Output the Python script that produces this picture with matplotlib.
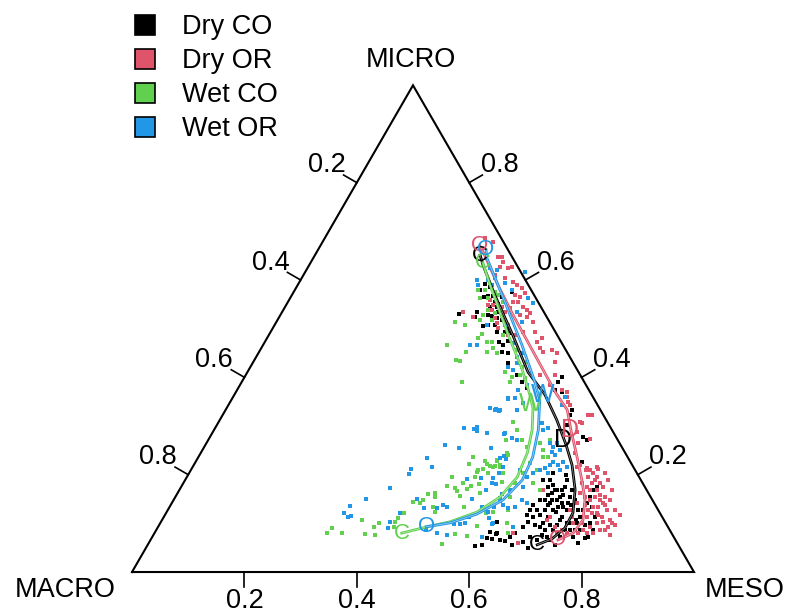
import numpy as np
import matplotlib
matplotlib.use("Agg")
import matplotlib.pyplot as plt
from matplotlib.lines import Line2D

plt.rcParams['font.family'] = ['Liberation Sans', 'DejaVu Sans']

# composition of each sample: MESO and MICRO fractions (MACRO = 1 - MESO - MICRO)
dry_co_meso = [0.317, 0.347, 0.348, 0.330, 0.332, 0.344, 0.350, 0.344, 0.359, 0.369, 0.377, 0.365, 0.376, 0.369,
               0.378, 0.389, 0.400, 0.407, 0.372, 0.392, 0.418, 0.427, 0.417, 0.432, 0.427, 0.432, 0.444, 0.454,
               0.483, 0.499, 0.514, 0.563, 0.565, 0.566, 0.580, 0.389, 0.376, 0.384, 0.397, 0.380, 0.403, 0.417,
               0.664, 0.674, 0.688, 0.617, 0.618, 0.623, 0.609, 0.637, 0.641, 0.650, 0.653, 0.657, 0.657, 0.680,
               0.681, 0.684, 0.685, 0.682, 0.685, 0.668, 0.681, 0.683, 0.680, 0.649, 0.666, 0.691, 0.700, 0.705,
               0.702, 0.699, 0.709, 0.724, 0.727, 0.718, 0.749, 0.745, 0.741, 0.741, 0.739, 0.739, 0.738, 0.736,
               0.740, 0.752, 0.767, 0.765, 0.777, 0.775, 0.771, 0.702, 0.711, 0.672, 0.665, 0.688, 0.706, 0.708,
               0.661, 0.673, 0.652, 0.645, 0.653, 0.647, 0.657, 0.637, 0.645, 0.644, 0.729, 0.764, 0.598, 0.596,
               0.609, 0.597, 0.607, 0.622, 0.595, 0.584, 0.680, 0.648, 0.632,
               0.661, 0.673, 0.693, 0.708, 0.671, 0.696, 0.672, 0.688, 0.710, 0.712, 0.714, 0.730, 0.737, 0.736,
               0.726, 0.692, 0.667, 0.660, 0.673, 0.758, 0.754, 0.669, 0.692, 0.725, 0.671, 0.694]
dry_co_micro = [0.530, 0.534, 0.524, 0.579, 0.592, 0.586, 0.567, 0.565, 0.567, 0.555, 0.545, 0.545, 0.551, 0.528,
                0.526, 0.522, 0.518, 0.514, 0.506, 0.508, 0.499, 0.491, 0.493, 0.475, 0.466, 0.452, 0.450, 0.429,
                0.405, 0.390, 0.378, 0.390, 0.401, 0.374, 0.370, 0.575, 0.565, 0.534, 0.534, 0.508, 0.493, 0.473,
                0.277, 0.271, 0.226, 0.333, 0.323, 0.302, 0.080, 0.072, 0.080, 0.093, 0.103, 0.113, 0.127, 0.093,
                0.101, 0.113, 0.127, 0.148, 0.154, 0.169, 0.169, 0.175, 0.189, 0.189, 0.162, 0.134, 0.134, 0.142,
                0.154, 0.169, 0.113, 0.101, 0.086, 0.080, 0.072, 0.086, 0.101, 0.113, 0.127, 0.142, 0.154, 0.169,
                0.175, 0.134, 0.113, 0.101, 0.086, 0.072, 0.070, 0.072, 0.066, 0.072, 0.062, 0.066, 0.086, 0.097,
                0.148, 0.142, 0.148, 0.138, 0.175, 0.203, 0.210, 0.189, 0.127, 0.117, 0.101, 0.060, 0.103, 0.082,
                0.078, 0.070, 0.068, 0.066, 0.056, 0.053, 0.049, 0.056, 0.064,
                0.158, 0.148, 0.123, 0.107, 0.127, 0.097, 0.169, 0.158, 0.127, 0.138, 0.148, 0.127, 0.107, 0.086,
                0.072, 0.086, 0.117, 0.179, 0.199, 0.097, 0.086, 0.097, 0.076, 0.056, 0.138, 0.142]

dry_or_meso = [0.650, 0.657, 0.643, 0.648, 0.601, 0.608, 0.594, 0.648, 0.661, 0.666, 0.684, 0.687, 0.703, 0.710,
               0.719, 0.730, 0.714, 0.727, 0.722, 0.743, 0.741, 0.751, 0.765, 0.759, 0.747, 0.741, 0.729, 0.767,
               0.782, 0.780, 0.767, 0.758, 0.753, 0.750, 0.759, 0.769, 0.777, 0.787, 0.797, 0.801, 0.790, 0.780,
               0.770, 0.754, 0.734, 0.726, 0.716, 0.721, 0.716, 0.709, 0.731, 0.754, 0.762, 0.804, 0.740, 0.720,
               0.734, 0.722, 0.706, 0.687, 0.647, 0.685, 0.657, 0.638, 0.716, 0.729, 0.754, 0.773, 0.777, 0.770,
               0.796, 0.753, 0.737, 0.748, 0.771, 0.811, 0.798, 0.810, 0.813, 0.678, 0.703, 0.723,
               0.285, 0.303, 0.328, 0.335, 0.342, 0.357, 0.363, 0.341, 0.341, 0.362, 0.380, 0.390, 0.402, 0.413,
               0.408, 0.397, 0.401, 0.409, 0.424, 0.434, 0.442, 0.441, 0.426, 0.401, 0.397, 0.394, 0.385, 0.371,
               0.322, 0.345, 0.386, 0.401, 0.426, 0.438, 0.449, 0.457, 0.471, 0.484, 0.489, 0.496, 0.505, 0.519,
               0.531, 0.537, 0.524, 0.552, 0.550, 0.578, 0.589, 0.359, 0.394, 0.407, 0.358, 0.368]
dry_or_micro = [0.323, 0.323, 0.308, 0.306, 0.349, 0.343, 0.360, 0.288, 0.265, 0.245, 0.216, 0.220, 0.214, 0.210,
                0.203, 0.195, 0.195, 0.183, 0.175, 0.169, 0.183, 0.175, 0.154, 0.148, 0.154, 0.148, 0.154, 0.142,
                0.127, 0.113, 0.121, 0.121, 0.113, 0.101, 0.086, 0.093, 0.101, 0.103, 0.107, 0.093, 0.086, 0.080,
                0.080, 0.080, 0.101, 0.113, 0.127, 0.142, 0.162, 0.183, 0.169, 0.134, 0.134, 0.101, 0.203, 0.216,
                0.080, 0.086, 0.093, 0.113, 0.169, 0.107, 0.060, 0.080, 0.080, 0.189, 0.158, 0.138, 0.148, 0.169,
                0.127, 0.189, 0.138, 0.127, 0.117, 0.097, 0.086, 0.117, 0.076, 0.273, 0.210, 0.212,
                0.686, 0.678, 0.647, 0.647, 0.637, 0.625, 0.627, 0.627, 0.610, 0.604, 0.596, 0.590, 0.584, 0.573,
                0.565, 0.569, 0.555, 0.555, 0.545, 0.538, 0.532, 0.524, 0.528, 0.542, 0.534, 0.528, 0.522, 0.538,
                0.534, 0.524, 0.545, 0.501, 0.487, 0.487, 0.493, 0.514, 0.493, 0.473, 0.481, 0.460, 0.452, 0.456,
                0.450, 0.432, 0.405, 0.384, 0.405, 0.374, 0.370, 0.549, 0.512, 0.514, 0.559, 0.549]

wet_co_meso = [0.326, 0.338, 0.338, 0.364, 0.361, 0.360, 0.382, 0.339, 0.378, 0.395, 0.404, 0.406, 0.412, 0.425,
               0.367, 0.392, 0.458, 0.477, 0.476, 0.488, 0.500, 0.487, 0.380, 0.352, 0.367, 0.358, 0.383, 0.415,
               0.457, 0.483, 0.417, 0.318, 0.327, 0.368, 0.375, 0.359,
               0.307, 0.311, 0.334, 0.356, 0.376, 0.384, 0.394, 0.389, 0.420, 0.418, 0.420, 0.423, 0.417, 0.428,
               0.442, 0.444, 0.447, 0.458, 0.462, 0.469, 0.478, 0.523, 0.472, 0.472, 0.488, 0.495, 0.506, 0.498,
               0.524, 0.511, 0.489, 0.515, 0.489, 0.513, 0.511, 0.511, 0.527, 0.538, 0.519, 0.514, 0.521, 0.532,
               0.528, 0.535, 0.537, 0.536, 0.545, 0.566, 0.558, 0.530, 0.549, 0.536, 0.559, 0.567, 0.569, 0.581,
               0.617, 0.629, 0.534, 0.547, 0.545, 0.524, 0.539, 0.558, 0.574, 0.593, 0.606, 0.622, 0.596, 0.594,
               0.590, 0.596, 0.616, 0.622, 0.642, 0.605, 0.632, 0.608, 0.613]
wet_co_micro = [0.579, 0.563, 0.579, 0.538, 0.528, 0.518, 0.518, 0.508, 0.489, 0.473, 0.473, 0.452, 0.460, 0.450,
                0.434, 0.390, 0.411, 0.390, 0.401, 0.405, 0.399, 0.432, 0.532, 0.563, 0.569, 0.575, 0.555, 0.508,
                0.456, 0.421, 0.487, 0.514, 0.466, 0.452, 0.481, 0.436,
                0.080, 0.090, 0.080, 0.107, 0.078, 0.093, 0.076, 0.101, 0.093, 0.111, 0.121, 0.121, 0.103, 0.144,
                0.142, 0.148, 0.160, 0.162, 0.154, 0.134, 0.123, 0.058, 0.177, 0.195, 0.173, 0.166, 0.156, 0.183,
                0.134, 0.171, 0.222, 0.177, 0.236, 0.195, 0.206, 0.210, 0.181, 0.162, 0.212, 0.228, 0.222, 0.203,
                0.218, 0.216, 0.218, 0.228, 0.220, 0.185, 0.203, 0.271, 0.240, 0.078, 0.074, 0.095, 0.121, 0.123,
                0.101, 0.080, 0.230, 0.216, 0.245, 0.308, 0.292, 0.271, 0.257, 0.265, 0.251, 0.236, 0.224, 0.203,
                0.183, 0.154, 0.210, 0.183, 0.169, 0.127, 0.142, 0.271, 0.236]

wet_or_meso = [0.314, 0.321, 0.333, 0.325, 0.339, 0.367, 0.386, 0.378, 0.368, 0.381, 0.410, 0.437, 0.443, 0.464,
               0.469, 0.470, 0.459, 0.500, 0.490, 0.511, 0.470, 0.346, 0.344, 0.391, 0.423, 0.437, 0.418,
               0.469, 0.480, 0.488, 0.491, 0.443, 0.462, 0.465, 0.469, 0.489, 0.520, 0.426, 0.454, 0.511, 0.408,
               0.426, 0.391, 0.392, 0.373, 0.341, 0.320, 0.317, 0.328, 0.332, 0.408, 0.410, 0.416, 0.432, 0.454,
               0.477, 0.485, 0.494, 0.524, 0.534, 0.542, 0.543, 0.530, 0.556, 0.572, 0.580, 0.591, 0.577, 0.582,
               0.578, 0.603, 0.523, 0.587, 0.501, 0.524, 0.546, 0.557, 0.551, 0.552, 0.538, 0.543, 0.549, 0.546,
               0.549, 0.503, 0.480, 0.480, 0.488, 0.503, 0.522, 0.519, 0.521, 0.539, 0.550, 0.577, 0.585, 0.592,
               0.611, 0.621, 0.624, 0.624, 0.633, 0.636, 0.654, 0.648, 0.657, 0.634, 0.628, 0.621, 0.639, 0.636,
               0.666, 0.605, 0.612, 0.586, 0.608, 0.588, 0.579, 0.591, 0.615, 0.632, 0.592, 0.632, 0.620, 0.591,
               0.594]
wet_or_micro = [0.600, 0.590, 0.600, 0.625, 0.621, 0.594, 0.579, 0.508, 0.466, 0.466, 0.508, 0.514, 0.471, 0.442,
                0.450, 0.429, 0.421, 0.374, 0.358, 0.384, 0.415, 0.590, 0.604, 0.616, 0.563, 0.553, 0.534,
                0.337, 0.335, 0.331, 0.356, 0.296, 0.294, 0.298, 0.290, 0.286, 0.284, 0.261, 0.255, 0.255, 0.234,
                0.216, 0.212, 0.201, 0.173, 0.150, 0.136, 0.121, 0.113, 0.115, 0.103, 0.090, 0.121, 0.150, 0.132,
                0.132, 0.138, 0.134, 0.099, 0.099, 0.101, 0.113, 0.150, 0.134, 0.123, 0.111, 0.099, 0.134, 0.146,
                0.160, 0.132, 0.076, 0.072, 0.191, 0.193, 0.193, 0.181, 0.203, 0.216, 0.234, 0.238, 0.232, 0.169,
                0.183, 0.080, 0.086, 0.333, 0.333, 0.358, 0.347, 0.333, 0.286, 0.275, 0.271, 0.306, 0.292, 0.296,
                0.265, 0.257, 0.265, 0.247, 0.240, 0.251, 0.226, 0.220, 0.210, 0.220, 0.214, 0.210, 0.203, 0.226,
                0.216, 0.195, 0.203, 0.210, 0.175, 0.169, 0.152, 0.138, 0.134, 0.142, 0.101, 0.093, 0.148, 0.360,
                0.343]

# mean trajectories
dry_co_path_meso = [0.294, 0.309, 0.361, 0.434, 0.499, 0.553, 0.600, 0.642, 0.673, 0.704, 0.724, 0.725, 0.713, 0.693]
dry_co_path_micro = [0.651, 0.631, 0.569, 0.487, 0.411, 0.364, 0.312, 0.261, 0.220, 0.169, 0.121, 0.090, 0.068, 0.056]
dry_or_path_meso = [0.284, 0.302, 0.356, 0.414, 0.494, 0.568, 0.608, 0.635, 0.674, 0.706, 0.732, 0.749, 0.745, 0.725]
dry_or_path_micro = [0.670, 0.651, 0.590, 0.528, 0.446, 0.370, 0.333, 0.292, 0.236, 0.189, 0.148, 0.107, 0.080, 0.066]
wet_co_path_meso = [0.307, 0.342, 0.426, 0.484, 0.526, 0.545, 0.566, 0.581, 0.588, 0.578, 0.552, 0.514, 0.479, 0.440]
wet_co_path_micro = [0.635, 0.590, 0.487, 0.419, 0.364, 0.337, 0.292, 0.245, 0.195, 0.154, 0.123, 0.103, 0.093, 0.080]
wet_or_path_meso = [0.299, 0.309, 0.386, 0.461, 0.522, 0.549, 0.577, 0.595, 0.600, 0.586, 0.554, 0.516, 0.477]
wet_or_path_micro = [0.662, 0.645, 0.555, 0.466, 0.390, 0.353, 0.292, 0.236, 0.189, 0.148, 0.119, 0.101, 0.093]

groups = ['Dry CO', 'Dry OR', 'Wet CO', 'Wet OR']
colors = ['#000000', '#DF536B', '#61D04F', '#2297E6']
end_letters = ['C', 'O', 'C', 'O']
mid_letters = ['D', 'D', 'W', 'W']
mid_meso = [0.631, 0.634, 0.537, 0.548]
mid_micro = [0.271, 0.292, 0.345, 0.364]
ticks = [0.2, 0.4, 0.6, 0.8]


def tern(meso, micro):
    meso = np.asarray(meso, dtype=float)
    micro = np.asarray(micro, dtype=float)
    return meso + micro / 2, micro * np.sqrt(3) / 2


fig = plt.figure(figsize=(7.93, 6.14), dpi=100)
ax = fig.add_axes([0, 0, 1, 1])
ax.set_xlim(-0.2349, 1.1762)
ax.set_ylim(-0.0747, 1.0178)
ax.axis('off')

# triangle frame
h = np.sqrt(3) / 2
ax.plot([0, 1, 0.5, 0], [0, 0, h, 0], color='black', lw=1.5, solid_joinstyle='miter')

# ticks and tick labels
fs = 19.5
tl, lo = 0.027, 0.062
for v in ticks:
    # bottom axis: MESO
    ax.plot([v, v], [0, -tl], color='black', lw=1.2)
    ax.text(v, -0.052, f'{v:.1f}', ha='center', va='center', fontsize=fs)
    # right axis: MICRO
    x, y = tern(1 - v, v)
    ax.plot([x, x + tl * h], [y, y + tl * 0.5], color='black', lw=1.2)
    ax.text(x + lo * h, y + lo * 0.5, f'{v:.1f}', ha='center', va='center', fontsize=fs)
    # left axis: MACRO
    x, y = tern(0, 1 - v)
    ax.plot([x, x - tl * h], [y, y + tl * 0.5], color='black', lw=1.2)
    ax.text(x - lo * h, y + lo * 0.5, f'{v:.1f}', ha='center', va='center', fontsize=fs)

ax.text(0.496, h + 0.045, 'MICRO', ha='center', va='center', fontsize=fs)
ax.text(-0.119, -0.032, 'MACRO', ha='center', va='center', fontsize=fs)
ax.text(1.091, -0.032, 'MESO', ha='center', va='center', fontsize=fs)

samples = [(dry_co_meso, dry_co_micro), (dry_or_meso, dry_or_micro),
           (wet_co_meso, wet_co_micro), (wet_or_meso, wet_or_micro)]
paths = [(dry_co_path_meso, dry_co_path_micro), (dry_or_path_meso, dry_or_path_micro),
         (wet_co_path_meso, wet_co_path_micro), (wet_or_path_meso, wet_or_path_micro)]

for (me, mi), c in zip(samples, colors):
    x, y = tern(me, mi)
    ax.scatter(x, y, marker='s', s=5.5, color=c, linewidths=0, zorder=2)

for i, ((me, mi), c) in enumerate(zip(paths, colors)):
    x, y = tern(me, mi)
    ax.plot(x, y, color=c, lw=2.0, zorder=3)
    ax.plot(x, y, color='white', lw=0.5, alpha=0.6, zorder=3)
    for j in (0, -1):
        ax.text(x[j], y[j], end_letters[i], color=c, fontsize=16,
                ha='center', va='center', zorder=4)
    mx, my = tern(mid_meso[i], mid_micro[i])
    ax.text(mx, my, mid_letters[i], color=c, fontsize=18, ha='center', va='center', zorder=4)

handles = [Line2D([], [], ls='', marker='s', markersize=14, markerfacecolor=c,
                  markeredgecolor='black', markeredgewidth=1.2) for c in colors]
ax.legend(handles, groups, loc='upper left', bbox_to_anchor=(0.166, 0.977), frameon=False,
          fontsize=fs, handlelength=1.0, handletextpad=0.85, labelspacing=0.3,
          borderaxespad=0, borderpad=0)

fig.savefig('out.png', dpi=100)
